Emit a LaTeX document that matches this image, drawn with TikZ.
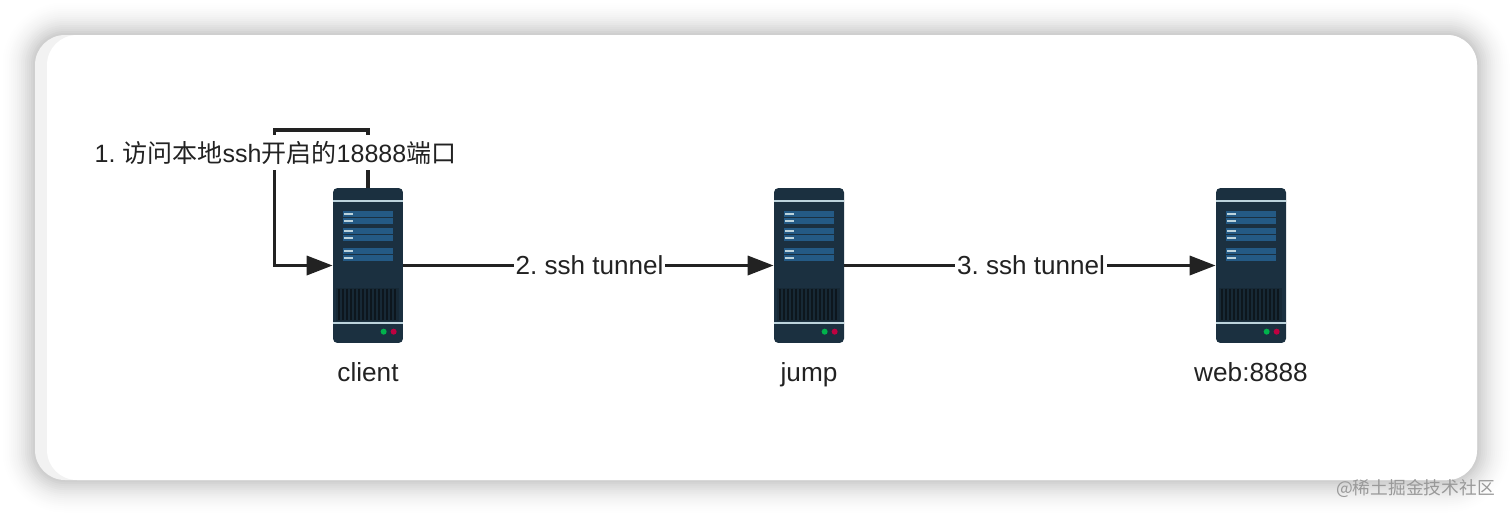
\documentclass[tikz,border=0pt]{standalone}
\usepackage{fontspec}
\setmainfont{Liberation Sans}
\newfontfamily\cjk{Noto Sans CJK SC}
\usetikzlibrary{arrows.meta, positioning}
\frenchspacing

\definecolor{linedark}{HTML}{222222}
\definecolor{serverbody}{HTML}{1B3040}
\definecolor{serverpanel}{HTML}{245A85}
\definecolor{servergrille}{HTML}{0D161D}
\definecolor{serverlight}{HTML}{BCD3DC}

\tikzset{
  servernode/.style={fill=serverbody, rounded corners=2.5pt, minimum width=1.4cm, minimum height=3.1cm, inner sep=0pt},
  arrowline/.style={line width=0.07cm, draw=linedark, -{Triangle[length=0.52cm, width=0.38cm]}},
  edgelabel/.style={fill=white, text=linedark, inner xsep=0.04cm, inner ysep=0.05cm, font=\fontsize{14.85}{18}\selectfont},
  hostlabel/.style={text=linedark, font=\fontsize{14.9}{18}\selectfont, below=0.26cm}
}

% Front of one server, drawn over its node
\newcommand{\serverfront}[1]{
  \begin{scope}[shift={(#1.north west)}]
    \fill[serverlight] (0,12) rectangle (70,14.5);
    \foreach \y in {23,30,40,47,60,67} {
      \fill[serverpanel] (10,\y) rectangle (60,\y+6);
      \fill[serverlight] (11,\y+2) rectangle (20,\y+4);
    }
    \fill[serverbody!85!black] (3,100) rectangle (66,133);
    \foreach \x in {6,10,...,64}
      \draw[servergrille, line width=0.04cm] (\x,101) -- (\x,132);
    \fill[serverlight] (0,134) rectangle (70,136);
    \fill[green!40!teal] (51,144) circle (3);
    \fill[purple] (61,144) circle (3);
  \end{scope}
}

\begin{document}
\begin{tikzpicture}[x=0.02cm, y=-0.02cm]
  \useasboundingbox (0,0) rectangle (1512,515);
  \fill[white] (0,0) rectangle (1512,515);

  % Card shadow
  \foreach \r in {36,34,...,2} {
    \pgfmathsetmacro{\shade}{21*(1-\r/37)*(1-\r/37)}
    \fill[black!\shade, rounded corners=0.6cm+\r*0.02cm] (35-\r,35-\r) rectangle (1477+\r,480+\r);
  }

  % Card
  \fill[black!5, rounded corners=0.6cm] (35,35) rectangle (1477,480);
  \fill[white, rounded corners=0.6cm] (47,35) rectangle (1477,480);

  % Servers
  \node[servernode] (client) at (368,265.5) {};
  \node[servernode] (jump) at (809,265.5) {};
  \node[servernode] (web) at (1251,265.5) {};
  \serverfront{client}
  \serverfront{jump}
  \serverfront{web}

  \node[hostlabel] (clientlabel) at (client.south) {client};
  \node[hostlabel] (jumplabel) at (jump.south) {jump};
  \node[hostlabel] (weblabel) at (web.south) {web:8888};

  % Connectors
  \coordinate (loopcorner) at (274.5,130);
  \draw[arrowline] (client.north) |- (loopcorner) |- (client.west);
  \draw[arrowline] (client.east) -- node[edgelabel, xshift=0.02cm] (tunnela) {2. ssh tunnel} (jump.west);
  \draw[arrowline] (jump.east) -- node[edgelabel, xshift=0.02cm] (tunnelb) {3. ssh tunnel} (web.west);

  \node[edgelabel, minimum height=0.7cm, font=\fontsize{14.25}{18}\selectfont] (accesslabel) at (275.5,152.5) {1. {\cjk 访问本地}ssh{\cjk 开启的}18888{\cjk 端口}};

  % Watermark
  \node[font=\cjk\fontsize{10.1}{12}\selectfont, text=black!40, inner sep=0pt] (watermark) at (1415.5,488) {@稀土掘金技术社区};
\end{tikzpicture}
\end{document}
